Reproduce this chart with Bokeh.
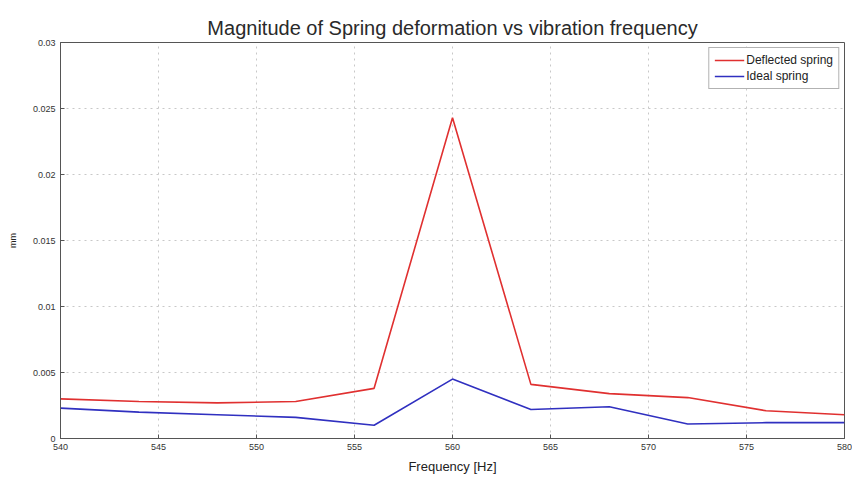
from bokeh.plotting import figure
from bokeh.models import Range1d, FixedTicker, Legend, LegendItem
from bokeh.embed import file_html
from bokeh.resources import INLINE

freq = [540, 544, 548, 552, 556, 560, 564, 568, 572, 576, 580]
deflected = [0.0030, 0.0028, 0.0027, 0.0028, 0.0038, 0.0243, 0.0041, 0.0034, 0.0031, 0.0021, 0.0018]
ideal = [0.0023, 0.0020, 0.0018, 0.0016, 0.0010, 0.0045, 0.0022, 0.0024, 0.0011, 0.0012, 0.0012]
x_ticks = [540, 545, 550, 555, 560, 565, 570, 575, 580]
y_ticks = [0, 0.005, 0.01, 0.015, 0.02, 0.025, 0.03]
y_tick_labels = ["0", "0.005", "0.01", "0.015", "0.02", "0.025", "0.03"]

FONT = "Liberation Sans"

p = figure(width=852, height=478, output_backend="svg", toolbar_location=None,
           x_range=Range1d(540, 580), y_range=Range1d(0, 0.03),
           title="Magnitude of Spring deformation vs vibration frequency",
           min_border_left=60, min_border_right=8, min_border_top=42, min_border_bottom=40)
p.background_fill_color = "white"
p.border_fill_color = "white"
p.outline_line_color = "#555555"
p.outline_line_width = 1

p.title.align = "center"
p.title.text_font = FONT
p.title.text_font_style = "normal"
p.title.text_font_size = "20px"
p.title.text_color = "#2a2a2a"
p.title.standoff = 8

r1 = p.line(freq, deflected, line_color="#e03030", line_width=1.6)
r2 = p.line(freq, ideal, line_color="#3030c0", line_width=1.6)

p.xaxis.ticker = FixedTicker(ticks=x_ticks)
p.yaxis.ticker = FixedTicker(ticks=y_ticks)
p.yaxis.major_label_overrides = {t: l for t, l in zip(y_ticks, y_tick_labels)}
for ax in (p.xaxis, p.yaxis):
    ax.major_tick_in = 4
    ax.major_tick_out = 0
    ax.minor_tick_in = 0
    ax.minor_tick_out = 0
    ax.axis_line_color = "#555555"
    ax.major_tick_line_color = "#555555"
    ax.major_label_text_font = FONT
    ax.major_label_text_font_size = "9px"
    ax.major_label_text_color = "#333333"
    ax.axis_label_text_font = FONT
    ax.axis_label_text_font_style = "normal"
    ax.axis_label_text_color = "#222222"
p.xaxis.axis_label = "Frequency [Hz]"
p.xaxis.axis_label_text_font_size = "13px"
p.xaxis.axis_label_standoff = 6
p.yaxis.axis_label = "mm"
p.yaxis.axis_label_text_font_size = "9px"
p.yaxis.axis_label_standoff = 12

p.grid.grid_line_color = "#c8c8c8"
p.grid.grid_line_dash = "dotted"
p.grid.grid_line_width = 1

legend = Legend(items=[LegendItem(label="Deflected spring", renderers=[r1]),
                       LegendItem(label="Ideal spring", renderers=[r2])],
                location="top_right")
legend.label_text_font = FONT
legend.label_text_font_size = "12px"
legend.label_text_color = "#222222"
legend.border_line_color = "#666666"
legend.background_fill_alpha = 1
legend.glyph_width = 30
legend.glyph_height = 14
legend.label_height = 14
legend.label_standoff = 2
legend.spacing = 2
legend.padding = 5
legend.margin = 5
p.add_layout(legend)

open("out.html", "w").write(file_html(p, INLINE))
